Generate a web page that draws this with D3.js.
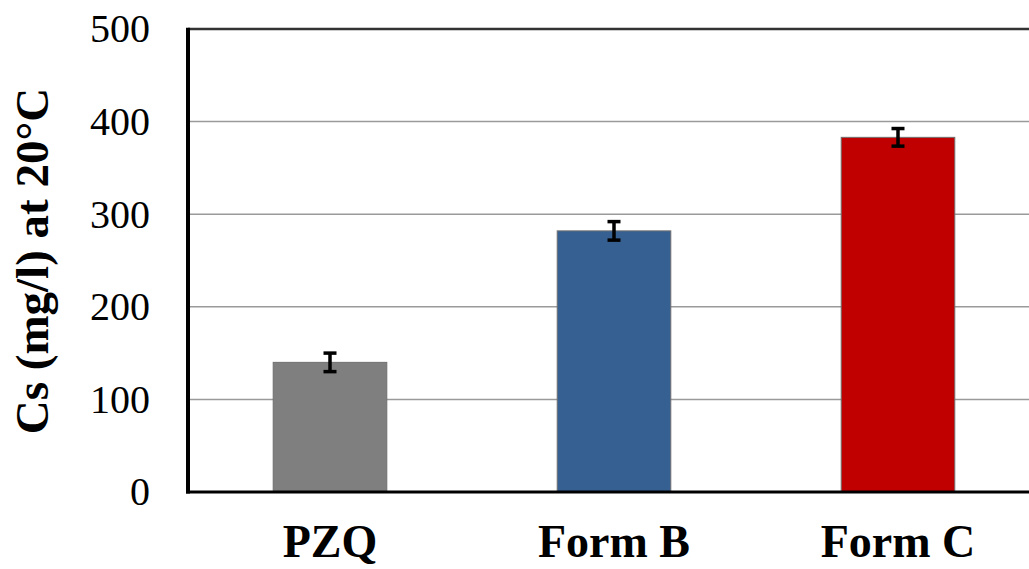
<!DOCTYPE html>
<html>
<head>
<meta charset="utf-8">
<script src="https://cdn.jsdelivr.net/npm/d3@7"></script>
<style>
  body { margin: 0; background: #fff; }
  svg { display: block; }
</style>
</head>
<body>
<script>
// Data
const forms = ["PZQ", "Form B", "Form C"];
const solubility = [140, 282, 383];
const errors = [10, 10, 9.5];
const colors = ["#7f7f7f", "#376092", "#c00000"];
const yTicks = [0, 100, 200, 300, 400, 500];

const W = 1029, H = 569;
const margin = {top: 29, left: 188, bottom: 77};
const plotBottom = H - margin.bottom;
const serif = "'Liberation Serif', 'Times New Roman', serif";

const svg = d3.select("body")
  .append("svg")
    .attr("width", W)
    .attr("height", H);

// Scales
const x = d3.scaleBand()
    .domain(forms)
    .range([margin.left, margin.left + 3 * 284])
    .paddingInner(0.6)
    .paddingOuter(0.3);

const y = d3.scaleLinear()
    .domain([0, 500])
    .range([plotBottom, margin.top]);

// Gridlines
svg.append("g")
  .selectAll("line")
  .data(yTicks.filter(d => d > 0 && d < 500))
  .enter()
  .append("line")
    .attr("x1", margin.left)
    .attr("x2", W)
    .attr("y1", d => y(d))
    .attr("y2", d => y(d))
    .attr("stroke", "#9a9a9a")
    .attr("stroke-width", 1.5);

// Top border
svg.append("line")
    .attr("x1", margin.left)
    .attr("x2", W)
    .attr("y1", y(500))
    .attr("y2", y(500))
    .attr("stroke", "#333")
    .attr("stroke-width", 2.5);

// Bars
svg.selectAll("rect.bar")
  .data(forms)
  .enter()
  .append("rect")
    .attr("class", "bar")
    .attr("x", d => x(d))
    .attr("y", (d, i) => y(solubility[i]))
    .attr("width", x.bandwidth())
    .attr("height", (d, i) => y(0) - y(solubility[i]))
    .attr("fill", (d, i) => colors[i])
    .attr("stroke", "#707070")
    .attr("stroke-width", 1);

// Error bars
const eb = svg.selectAll("g.err")
  .data(forms)
  .enter()
  .append("g")
    .attr("class", "err")
    .attr("stroke", "#000")
    .attr("stroke-width", 3.5);
eb.append("line")
    .attr("x1", d => x(d) + x.bandwidth() / 2)
    .attr("x2", d => x(d) + x.bandwidth() / 2)
    .attr("y1", (d, i) => y(solubility[i] + errors[i]))
    .attr("y2", (d, i) => y(solubility[i] - errors[i]));
[1, -1].forEach(s => {
  eb.append("line")
      .attr("x1", d => x(d) + x.bandwidth() / 2 - 6.5)
      .attr("x2", d => x(d) + x.bandwidth() / 2 + 6.5)
      .attr("y1", (d, i) => y(solubility[i] + s * errors[i]))
      .attr("y2", (d, i) => y(solubility[i] + s * errors[i]));
});

// Y axis
const yAxis = svg.append("g")
    .attr("transform", "translate(" + margin.left + ",0)")
    .call(d3.axisLeft(y).tickValues(yTicks).tickSize(0).tickPadding(38));
yAxis.select(".domain").remove();
yAxis.attr("font-family", null).attr("font-size", null);
yAxis.selectAll("text")
    .style("font-family", serif)
    .style("font-size", "40px")
    .attr("fill", "#000");

svg.append("line")
    .attr("x1", margin.left)
    .attr("x2", margin.left)
    .attr("y1", margin.top - 1.2)
    .attr("y2", plotBottom + 1.5)
    .attr("stroke", "#000")
    .attr("stroke-width", 4);

// X axis
const xAxis = svg.append("g")
    .attr("transform", "translate(0," + plotBottom + ")")
    .call(d3.axisBottom(x).tickSize(0).tickPadding(32));
xAxis.select(".domain").remove();
xAxis.attr("font-family", null).attr("font-size", null);
xAxis.selectAll("text")
    .style("font-family", serif)
    .style("font-size", "46px")
    .style("font-weight", "bold")
    .attr("fill", "#000");

svg.append("line")
    .attr("x1", margin.left - 2)
    .attr("x2", W)
    .attr("y1", plotBottom)
    .attr("y2", plotBottom)
    .attr("stroke", "#000")
    .attr("stroke-width", 3);

// Y label
svg.append("text")
    .attr("transform", "translate(48," + 261 + ") rotate(-90)")
    .style("text-anchor", "middle")
    .style("font-family", serif)
    .style("font-size", "47px")
    .style("font-weight", "bold")
    .text("Cs (mg/l) at 20°C");
</script>
</body>
</html>
